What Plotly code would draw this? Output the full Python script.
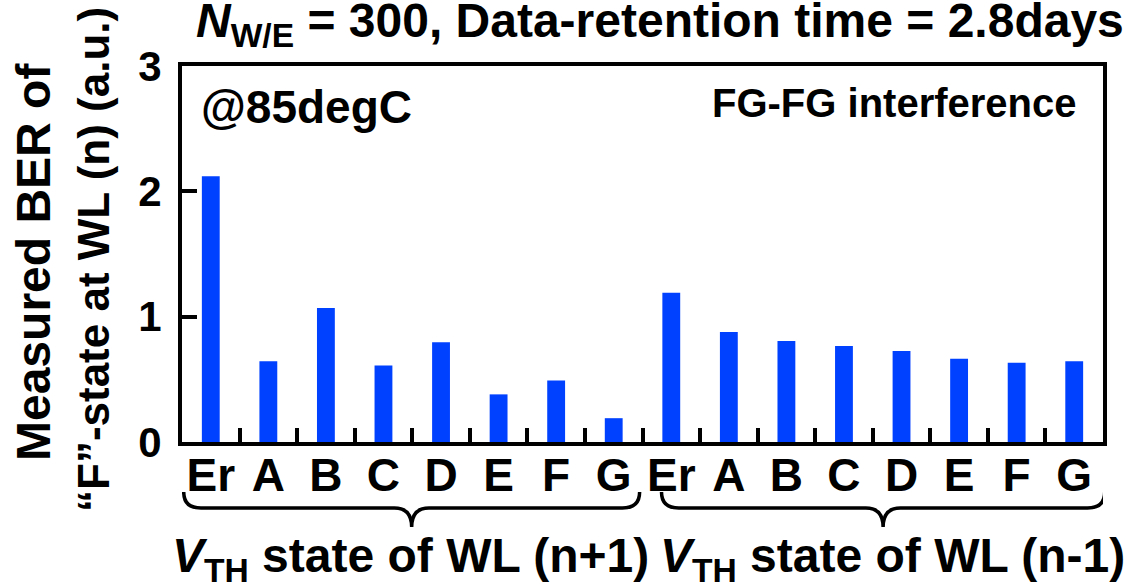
import plotly.graph_objects as go

# ---- data ----
states = ["Er", "A", "B", "C", "D", "E", "F", "G"]
ber_next = [2.12, 0.645, 1.07, 0.61, 0.795, 0.38, 0.49, 0.19]   # WL (n+1)
ber_prev = [1.19, 0.877, 0.806, 0.766, 0.727, 0.664, 0.632, 0.645]  # WL (n-1)
group_labels = ["<i>V</i><sub>TH</sub> state of WL (n+1)", "<i>V</i><sub>TH</sub> state of WL (n-1)"]
y_ticks = [0, 1, 2, 3]

labels = states + states
values = ber_next + ber_prev
xpos = list(range(len(labels)))

# ---- layout geometry ----
WIDTH, HEIGHT = 1132, 584
L, R, T, B = 182, 29, 66, 142
PW, PH = WIDTH - L - R, HEIGHT - T - B

def px_x(p):
    return (p - L) / PW

def px_y(p):
    return (HEIGHT - B - p) / PH

FONT = "Liberation Sans, Arial, sans-serif"
BLUE = "#0040ff"

fig = go.Figure()
fig.add_trace(go.Bar(x=xpos, y=values, width=0.31,
                     marker=dict(color=BLUE, line=dict(width=0)),
                     showlegend=False))

fig.update_layout(
    width=WIDTH, height=HEIGHT,
    margin=dict(l=L, r=R, t=T, b=B),
    plot_bgcolor="white", paper_bgcolor="white",
    font=dict(family=FONT, color="black"),
    xaxis=dict(range=[-0.5, len(labels) - 0.5], tickvals=xpos,
               ticktext=["<b>%s</b>" % s for s in labels],
               ticks="", showgrid=False, zeroline=False,
               showline=True, linewidth=4, linecolor="black", mirror=True,
               tickfont=dict(size=46, family=FONT), ticklabelstandoff=-10,
               minor=dict(tickvals=[i + 0.5 for i in xpos[:-1]], ticks="inside",
                          ticklen=14, tickwidth=4, tickcolor="black", showgrid=False)),
    yaxis=dict(range=[0, 3], tickvals=y_ticks,
               ticktext=["<b>%d</b>" % v for v in y_ticks],
               ticks="inside", ticklen=15, tickwidth=4, tickcolor="black",
               showgrid=False, zeroline=False,
               showline=True, linewidth=4, linecolor="black", mirror=True,
               tickfont=dict(size=42, family=FONT), ticklabelstandoff=8),
)

ann = []
# title
ann.append(dict(text="<b><i>N</i><sub>W/E</sub> = 300, Data-retention time = 2.8days</b>",
                xref="paper", yref="paper", x=px_x(660), y=px_y(24),
                xanchor="center", yanchor="middle", showarrow=False,
                font=dict(size=48, family=FONT)))
# y-axis title lines
ann.append(dict(text="<b>Measured BER of</b>", xref="paper", yref="paper",
                x=px_x(33), y=px_y(262), textangle=-90, showarrow=False,
                xanchor="center", yanchor="middle", font=dict(size=48, family=FONT)))
ann.append(dict(text="<b>\u201cF\u201d-state at WL (n) (a.u.)</b>", xref="paper", yref="paper",
                x=px_x(93), y=px_y(260), textangle=-90, showarrow=False,
                xanchor="center", yanchor="middle", font=dict(size=44, family=FONT)))
# inside labels
ann.append(dict(text="<b>@85degC</b>", xref="paper", yref="paper",
                x=px_x(199), y=px_y(107), xanchor="left", yanchor="middle",
                showarrow=False, font=dict(size=46, family=FONT)))
ann.append(dict(text="<b>FG-FG interference</b>", xref="paper", yref="paper",
                x=px_x(1079), y=px_y(103), xanchor="right", yanchor="middle",
                showarrow=False, font=dict(size=40, family=FONT)))
# group labels
label_px = [410, 892]
for g, txt in enumerate(group_labels):
    ann.append(dict(text="<b>%s</b>" % txt, xref="paper", yref="paper",
                    x=px_x(label_px[g]), y=px_y(559), xanchor="center",
                    yanchor="middle", showarrow=False,
                    font=dict(size=48, family=FONT)))
fig.update_layout(annotations=ann)

# braces under each group
n = len(states)
ytop, ymid, ybot = px_y(492), px_y(508), px_y(527)
for g in range(2):
    x0 = g * n - 0.47 + (0.3 if g == 1 else 0)
    x1 = g * n + n - 0.55 + (0.08 if g == 1 else 0)
    xc = (x0 + x1) / 2
    d = 0.3
    path = (f"M {x0},{ytop} Q {x0},{ymid} {x0 + d},{ymid} "
            f"L {xc - d},{ymid} Q {xc},{ymid} {xc},{ybot} "
            f"Q {xc},{ymid} {xc + d},{ymid} "
            f"L {x1 - d},{ymid} Q {x1},{ymid} {x1},{ytop}")
    fig.add_shape(type="path", path=path, xref="x", yref="paper",
                  line=dict(color="black", width=3.5))

fig.write_html("out.html")
